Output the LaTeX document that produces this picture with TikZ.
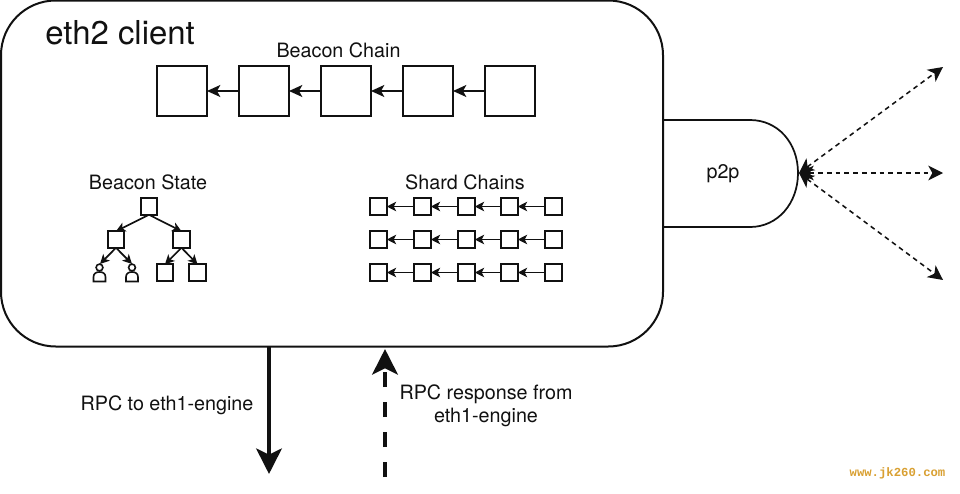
\documentclass[tikz,border=0pt]{standalone}
\usepackage{fontspec}
\setmainfont{TeX Gyre Heros}
\newfontfamily\wmfont{Liberation Mono}
\usetikzlibrary{arrows.meta}
\definecolor{ink}{HTML}{111111}
\definecolor{wm}{HTML}{D9A032}
\tikzset{
  lbl/.style={inner sep=0pt,text=ink,font=\fontsize{14.8pt}{17.5pt}\selectfont,align=center},
  bigbox/.style={draw=ink,line width=1.5pt,minimum size=37.5pt,inner sep=0pt,outer sep=0pt},
  smallbox/.style={draw=ink,line width=1.3pt,minimum size=12.4pt,inner sep=0pt,outer sep=0pt},
  blink/.style={draw=ink,line width=1.3pt,-{Stealth[length=10pt,width=9pt,inset=2.5pt]}},
  slink/.style={draw=ink,line width=1.25pt,-{Stealth[length=7pt,width=7pt,inset=1.8pt]}},
  peer/.style={draw=ink,line width=1.15pt,dash pattern=on 3.6pt off 3pt,{Stealth[length=11pt,width=11pt,inset=3pt]}-{Stealth[length=11pt,width=11pt,inset=3pt]}},
  person/.style={draw=ink,line width=1.2pt,fill=white},
}
\begin{document}
\begin{tikzpicture}[x=0.75pt,y=-0.75pt]
\useasboundingbox (0,0) rectangle (960,493);
\fill[white] (0,0) rectangle (960,493);
% p2p lobe
\draw[ink,line width=1.3pt] (663,120) -- (750,120) .. controls (778,120) and (798,143) .. (798,173) .. controls (798,203) and (778,227) .. (750,227) -- (663,227);
% main box
\node[draw=ink,line width=1.5pt,rounded corners=41pt,minimum width=496.5pt,minimum height=259.5pt,inner sep=0pt,outer sep=0pt,anchor=north west] (client) at (1,0.5) {};
\node[lbl,anchor=west,font=\fontsize{24.7pt}{28pt}\selectfont] (title) at (45,33) {eth2 client};
\node[lbl] (bclabel) at (338.5,50) {Beacon Chain};
\node[lbl] (bslabel) at (148,182.5) {Beacon State};
\node[lbl] (sclabel) at (465,182.5) {Shard Chains};
\node[lbl] (p2plabel) at (723,173.5) {p2p};
\node[lbl] (rpcout) at (167,405) {RPC to eth1-engine};
\node[lbl] (rpcin) at (486,406) {RPC response from\\eth1-engine};
% beacon chain
\foreach \i/\x in {1/182,2/264,3/346,4/428,5/510}
  \node[bigbox] (b\i) at (\x,91) {};
\foreach \a/\b in {2/1,3/2,4/3,5/4}
  \draw[blink] (b\a) -- (b\b);
% shard chains
\foreach \r/\y in {1/206.5,2/239.5,3/272.5}{
  \foreach \i/\x in {1/378.5,2/422.5,3/466.5,4/509.5,5/553.5}
    \node[smallbox] (s\r\i) at (\x,\y) {};
  \foreach \a/\b in {2/1,3/2,4/3,5/4}
    \draw[slink] (s\r\a) -- (s\r\b);
}
% beacon state tree
\node[smallbox] (root) at (149,206.5) {};
\node[smallbox] (tl) at (116,239.5) {};
\node[smallbox] (tr) at (181.5,239.5) {};
\node[smallbox] (lc) at (165,272.5) {};
\node[smallbox] (ld) at (197.5,272.5) {};
\coordinate (pa) at (100,264);
\coordinate (pb) at (132,264);
\draw[person] (99.5,267.5) circle[radius=3.4];
\draw[person] (93.5,281.5) -- (93.5,277) .. controls (93.5,273.5) and (96,272) .. (99.5,272) .. controls (103,272) and (105.5,273.5) .. (105.5,277) -- (105.5,281.5) -- cycle;
\draw[person] (132,267.5) circle[radius=3.4];
\draw[person] (126,281.5) -- (126,277) .. controls (126,273.5) and (128.5,272) .. (132,272) .. controls (135.5,272) and (138,273.5) .. (138,277) -- (138,281.5) -- cycle;
\draw[slink] (root.south) -- (tl.north);
\draw[slink] (root.south) -- (tr.north);
\draw[slink] (tl.south) -- (pa);
\draw[slink] (tl.south) -- (pb);
\draw[slink] (tr.south) -- (lc.north);
\draw[slink] (tr.south) -- (ld.north);
% p2p peers
\coordinate (hub) at (799,173);
\coordinate (p1) at (943,67);
\coordinate (p2) at (943,173);
\coordinate (p3) at (943,280);
\draw[peer] (hub) -- (p1);
\draw[peer] (hub) -- (p2);
\draw[peer] (hub) -- (p3);
% RPC
\coordinate (outend) at (269,474);
\coordinate (inend) at (385,477);
\coordinate (outstart) at (269,347);
\coordinate (instart) at (385,349);
\draw[ink,line width=3.5pt,-{Stealth[length=19pt,width=19pt,inset=4.5pt]}] (outstart) -- (outend);
\draw[ink,line width=3.7pt,dash pattern=on 11.25pt off 11.25pt,-{Stealth[length=19pt,width=19pt,inset=4.5pt]}] (inend) -- (instart);
% watermark
\node[inner sep=0pt,text=wm,font=\wmfont\bfseries\fontsize{9.2pt}{11pt}\selectfont] (mark) at (897.5,473) {www.jk260.com};
\end{tikzpicture}
\end{document}
